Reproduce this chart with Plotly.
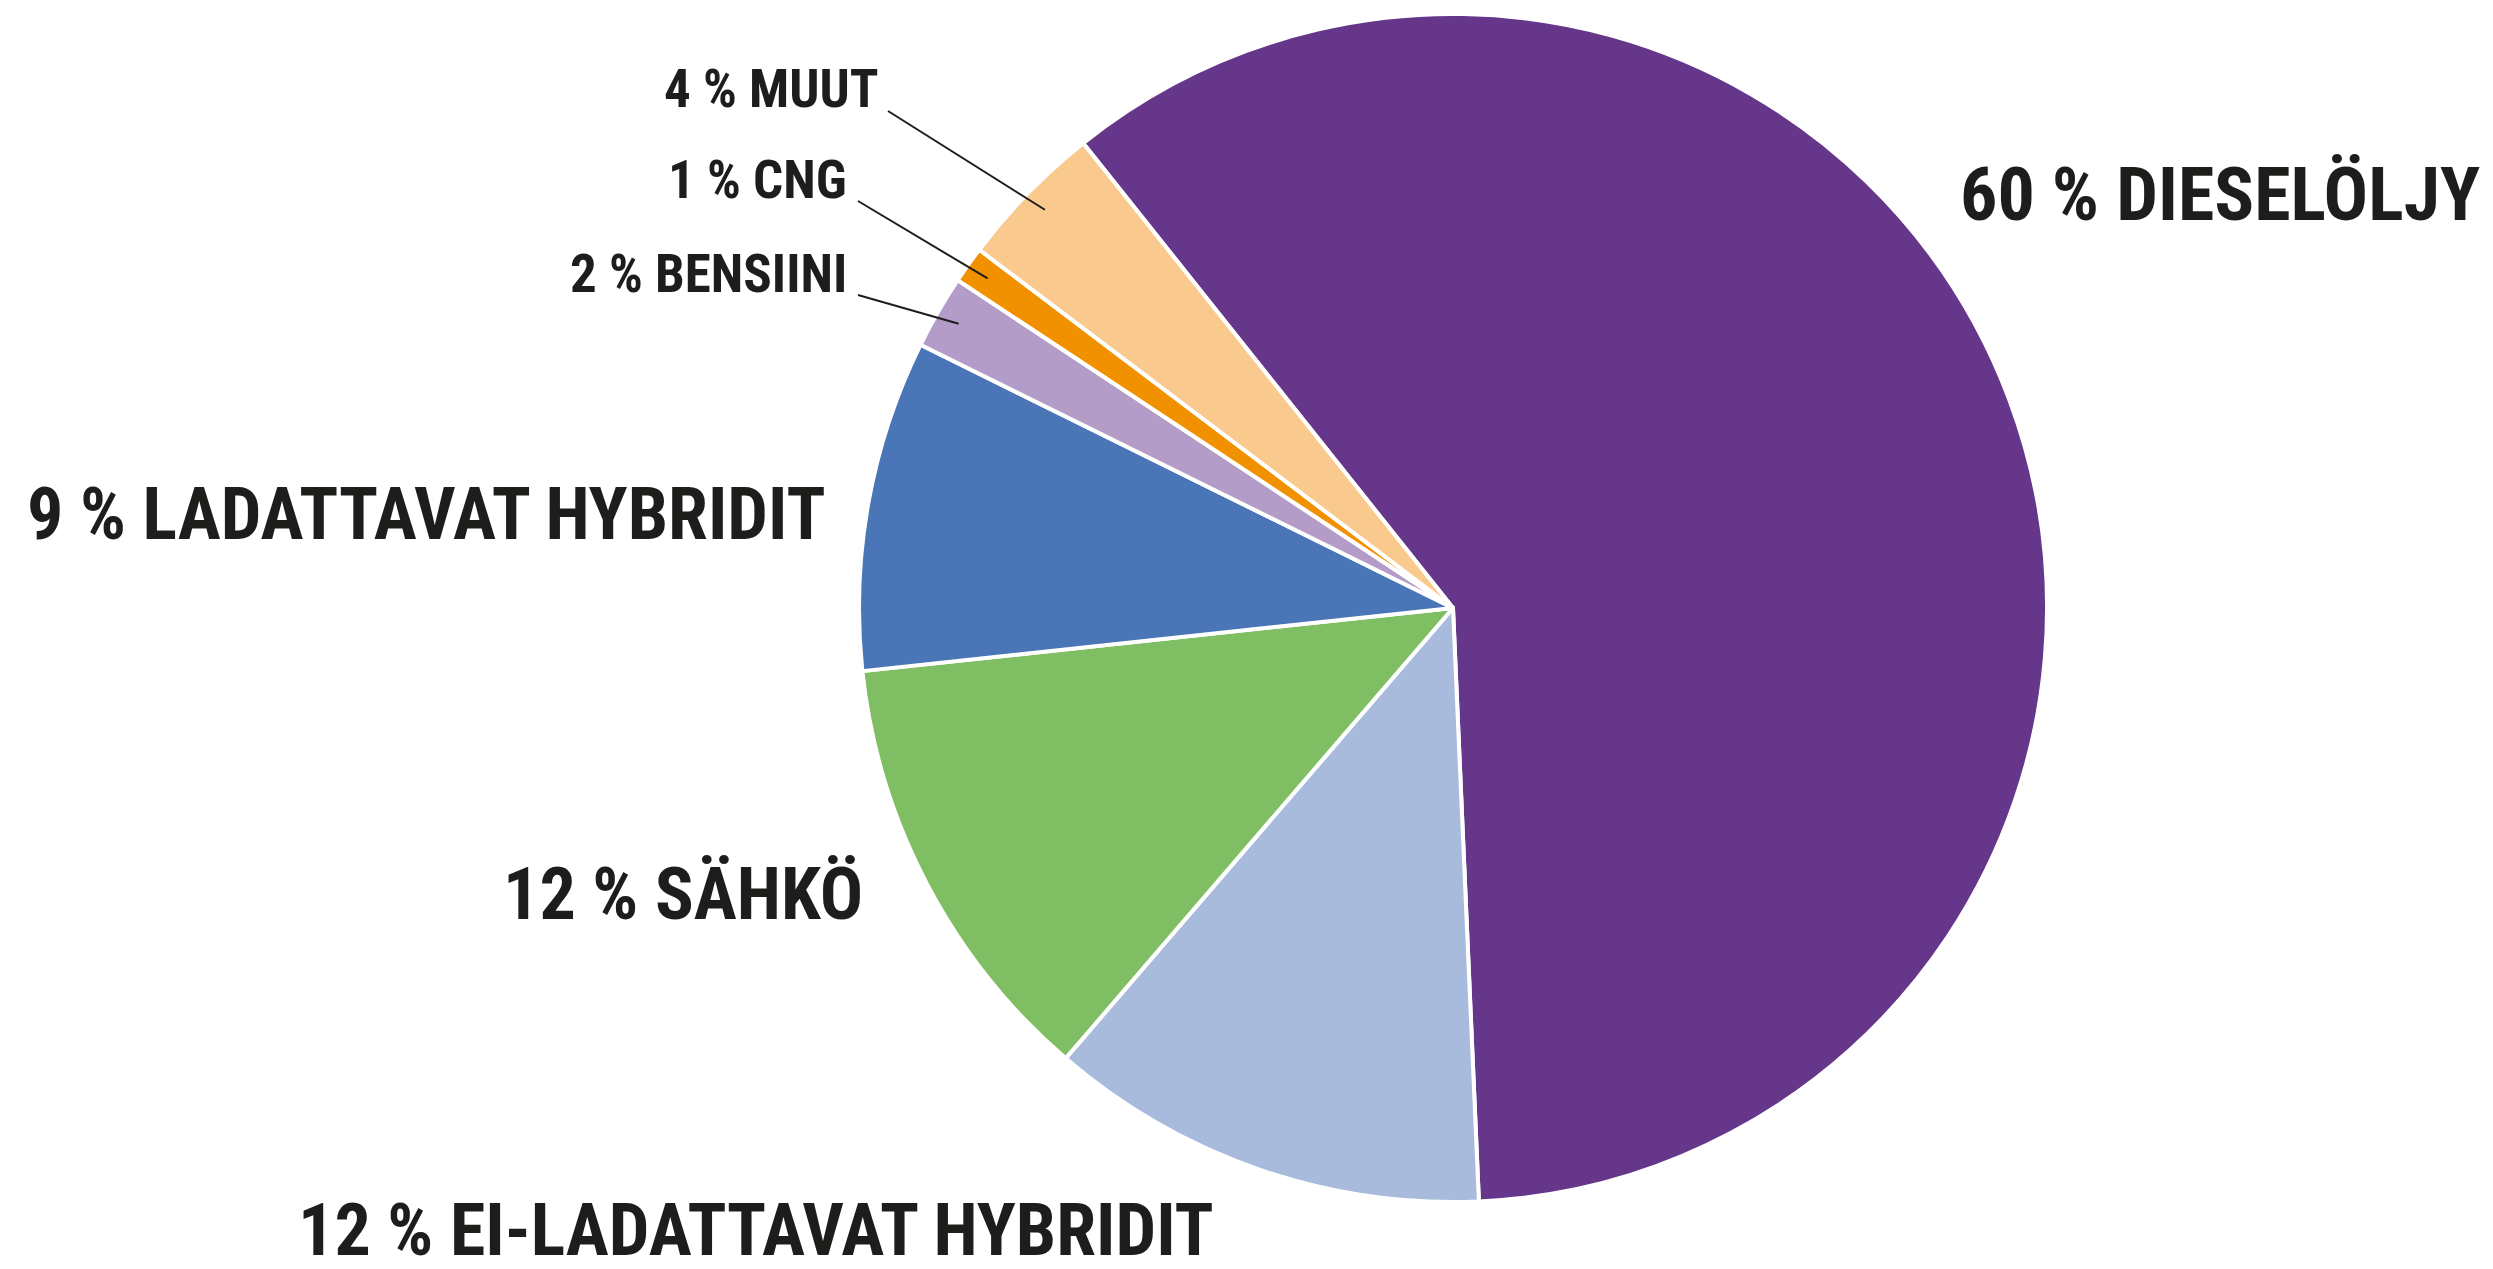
import math
import plotly.graph_objects as go

# ---- data ----
categories = ["DIESELÖLJY", "EI-LADATTAVAT HYBRIDIT", "SÄHKÖ", "LADATTAVAT HYBRIDIT",
              "BENSIINI", "CNG", "MUUT"]
shares = [60, 12, 12, 9, 2, 1, 4]
colors = ["#65368A", "#A9BBDD", "#80BE63", "#4A76B8", "#B39CC8", "#F29100", "#F9C98D"]

# ---- layout config (pixels in the page) ----
W, H = 2493, 1269
OFF = 8  # default page body margin
CX, CY, R = 1453, 608, 594
ROTATION = -38.5
FONT = ("Roboto Condensed, Noto Sans Condensed, Open Sans Condensed, "
        "Liberation Sans Narrow, DejaVu Sans Condensed, sans-serif")
TXT = "#1d1d1b"
BIG, SMALL = 72, 53

# label anchor (x, y, xanchor, font size, leader line start or None)
label_cfg = {
    "DIESELÖLJY": (1958, 194, "left", 74, None),
    "EI-LADATTAVAT HYBRIDIT": (1216, 1230, "right", BIG, None),
    "SÄHKÖ": (865, 894, "right", BIG, None),
    "LADATTAVAT HYBRIDIT": (828, 514, "right", BIG, None),
    "BENSIINI": (849, 274, "right", SMALL, (858, 295)),
    "CNG": (849, 180, "right", SMALL, (858, 201)),
    "MUUT": (880, 89, "right", SMALL, (888, 111)),
}

def px(x):
    return (x - OFF) / W

def py(y):
    return 1 - (y - OFF) / H

fig = go.Figure(go.Pie(
    labels=categories,
    values=shares,
    sort=False,
    direction="clockwise",
    rotation=ROTATION,
    marker=dict(colors=colors, line=dict(color="white", width=4)),
    textinfo="none",
    hoverinfo="label+percent",
    showlegend=False,
    domain=dict(x=[px(CX - R), px(CX + R)], y=[py(CY + R), py(CY - R)]),
))

annotations = []
shapes = []
total = sum(shares)
cum = 0.0
for cat, v in zip(categories, shares):
    start = ROTATION + 360 * cum / total
    cum += v
    mid = start + 180 * v / total
    x, y, xa, size, line_start = label_cfg[cat]
    annotations.append(dict(
        x=px(x), y=py(y), xref="paper", yref="paper",
        text=f"{v} % {cat}", showarrow=False,
        xanchor=xa, yanchor="middle",
        font=dict(family=FONT, size=size, color=TXT, weight="bold"),
    ))
    if line_start is not None:
        a = math.radians(mid)
        ex = CX + 0.96 * R * math.sin(a)
        ey = CY - 0.96 * R * math.cos(a)
        shapes.append(dict(
            type="line", xref="paper", yref="paper",
            x0=px(line_start[0]), y0=py(line_start[1]), x1=px(ex), y1=py(ey),
            line=dict(color=TXT, width=2),
        ))

fig.update_layout(
    width=W, height=H,
    margin=dict(l=0, r=0, t=0, b=0),
    paper_bgcolor="white", plot_bgcolor="white",
    annotations=annotations, shapes=shapes,
)

fig.write_html("out.html")
